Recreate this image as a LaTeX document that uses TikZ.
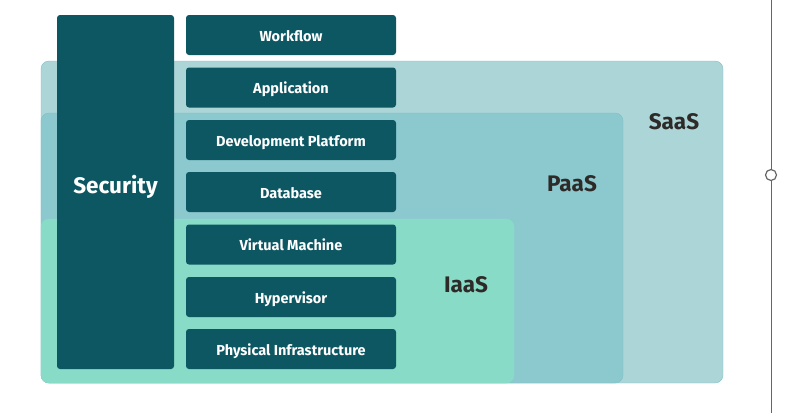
\documentclass[tikz,border=0pt]{standalone}
\usepackage{fontspec}
\setmainfont{Fira Sans}
\definecolor{deep}{HTML}{0D5763}
\definecolor{saasfill}{HTML}{ACD5D8}
\definecolor{saasline}{HTML}{7FBFC5}
\definecolor{paasfill}{HTML}{8CC9CF}
\definecolor{paasline}{HTML}{7CC0C6}
\definecolor{iaasfill}{HTML}{88DBC6}
\definecolor{ink}{HTML}{2E2A28}
\definecolor{rule}{HTML}{666666}
\tikzset{
    layer/.style={rectangle,rounded corners=3pt,fill=deep,text=white,
        minimum width=210pt,minimum height=40pt,inner sep=0pt,
        text height=12.5pt,text depth=0pt,
        font=\fontsize{14.5pt}{17pt}\selectfont\bfseries},
    tier/.style={text=ink,text height=15.5pt,text depth=0pt,inner sep=0pt,
        font=\fontsize{22.5pt}{26pt}\selectfont\bfseries}
}
\begin{document}
\begin{tikzpicture}[x=1pt,y=-1pt]
    \useasboundingbox (0,0) rectangle (803,413);

        \draw[fill=saasfill,draw=saasline,rounded corners=8pt] (41,61) rectangle (723,383);
        \draw[fill=paasfill,draw=paasline,rounded corners=8pt] (41,113) rectangle (623,383);
        \draw[fill=iaasfill,draw=iaasfill,rounded corners=8pt] (41,219) rectangle (514,383);

        \node[tier] (SaaS) at (674,121.5) {SaaS};
        \node[tier] (PaaS) at (572,184) {PaaS};
        \node[tier] (IaaS) at (466,285) {IaaS};

        \node[layer,minimum width=117pt,minimum height=354pt] (Sec) at (115.5,192) {};
        \node[tier,text=white] (SecText) at (115.5,186) {Security};

        \node[layer] (Work) at (291,35) {Workflow};
        \node[layer] (App) at (291,87.5) {Application};
        \node[layer] (Dev) at (291,140) {Development Platform};
        \node[layer] (DB) at (291,192) {Database};
        \node[layer] (VM) at (291,244.5) {Virtual Machine};
        \node[layer] (Hyp) at (291,297) {Hypervisor};
        \node[layer] (Phys) at (291,349) {Physical Infrastructure};

        \coordinate (Top) at (771,0);
        \coordinate (Bot) at (771,413);
        \node[circle,draw=rule,fill=white,line width=1.2pt,minimum size=11pt,inner sep=0pt] (Knob) at (771,175) {};
        \draw[rule,line width=1pt] (Top) -- (Knob);
        \draw[rule,line width=1pt] (Knob) -- (Bot);

    \end{tikzpicture}
\end{document}
